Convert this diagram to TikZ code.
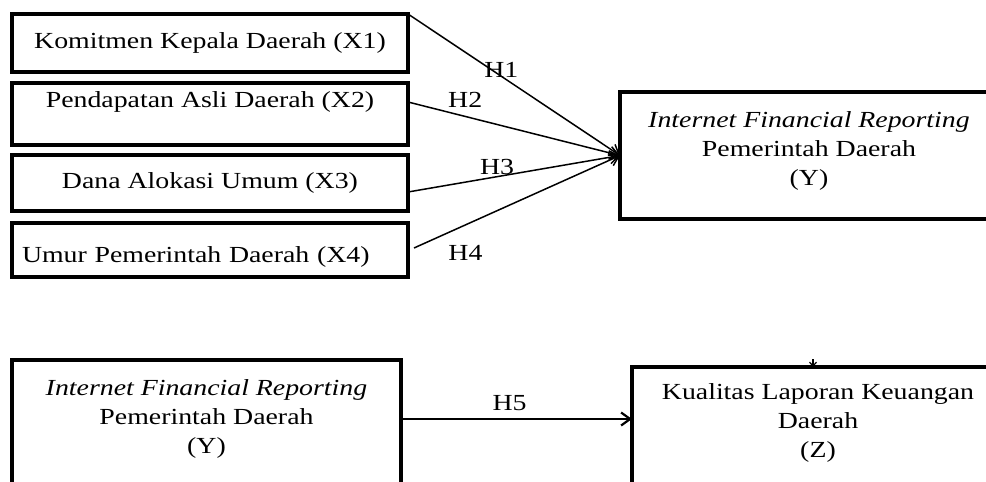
\documentclass[tikz,border=0pt]{standalone}
\usepackage{fontspec}
\setmainfont{Liberation Serif}[FakeStretch=1.21]
\usetikzlibrary{arrows.meta,positioning}

\begin{document}
\begin{tikzpicture}[x=1pt, y=-1pt, every node/.style={font=\fontsize{23}{29}\selectfont, align=center}, varbox/.style={rectangle, draw=black, line width=3.4pt, minimum width=396pt, inner sep=0pt, outer sep=0pt}, bigbox/.style={rectangle, draw=black, line width=3.4pt, inner sep=0pt, outer sep=0pt}, line/.style={-{Straight Barb[length=9pt,width=13pt]}, line width=1.5pt}, hyp/.style={inner sep=1pt}]
\useasboundingbox (0,0) rectangle (986,482);

\node[varbox, minimum height=58pt] (x1) at (210,43) {Komitmen Kepala Daerah (X1)};
\node[varbox, minimum height=62pt, text depth=29pt, below=11pt of x1] (x2) {Pendapatan Asli Daerah (X2)};
\node[varbox, minimum height=56pt, below=10pt of x2] (x3) {Dana Alokasi Umum (X3)};
\node[varbox, minimum height=54pt, text height=29pt, text width=376pt, align=left, below=12pt of x3] (x4) {Umur Pemerintah Daerah (X4)};
\node[bigbox, minimum width=378pt, minimum height=127pt, text depth=13pt] (ytop) at (809,155.5) {\textit{Internet Financial Reporting}\\ Pemerintah Daerah\\ (Y)};

\node[bigbox, minimum width=389pt, text height=93pt, text depth=80pt, anchor=north] (ybot) at (206.5,360) {\textit{Internet Financial Reporting}\\ Pemerintah Daerah\\ (Y)};
\node[bigbox, minimum width=372pt, text height=90pt, text depth=80pt, anchor=north] (zbox) at (818,367) {Kualitas Laporan Keuangan\\ Daerah\\ (Z)};
\coordinate (ztip) at (813,359);

\draw[line] (x1.north east) -- node[hyp, pos=0.44, yshift=6pt] (h1) {H1} (ytop.west);
\draw[line] ([yshift=12pt]x2.east) -- node[hyp, pos=0.27, yshift=17pt] (h2) {H2} (ytop.west);
\draw[line] ([yshift=-9pt]x3.east) -- node[hyp, pos=0.42, yshift=10pt] (h3) {H3} (ytop.west);
\draw[line] ([xshift=6pt,yshift=2pt]x4.east) -- node[hyp, pos=0.25, yshift=-28pt] (h4) {H4} (ytop.west);

\draw[line, line width=2.2pt] ([yshift=-59pt]ybot.north east) -- node[hyp, pos=0.47, yshift=16pt] (h5) {H5} ([yshift=-52pt]zbox.north west);
\draw[-{Straight Barb[length=4pt,width=7pt]}, line width=1.2pt] (ztip) -- (ztip |- zbox.north);
\end{tikzpicture}
\end{document}
